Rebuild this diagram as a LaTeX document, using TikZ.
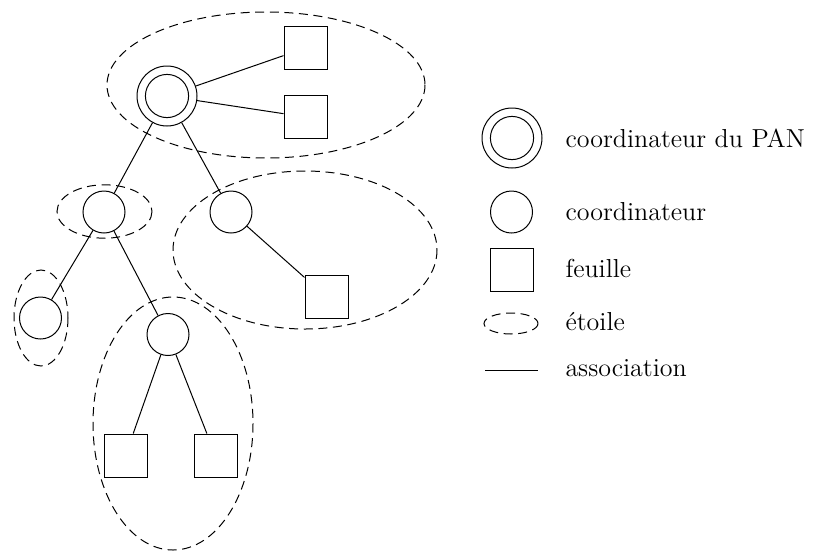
\documentclass[tikz,border=0pt]{standalone}
\usepackage{amsmath,amssymb}
\usepackage{xcolor}
\usepackage{tikz}

\begin{document}
\begin{tikzpicture}[x=0.5pt,y=-0.5pt,line width=0.5pt,
    coord/.style={circle,draw,minimum size=21pt,inner sep=0pt},
    pan/.style={circle,draw,minimum size=30pt,inner sep=0pt,
      path picture={\draw (path picture bounding box.center) circle (10.8pt);}},
    leaf/.style={rectangle,draw,minimum size=21.5pt,inner sep=0pt},
    star/.style={dash pattern=on 4.5pt off 2.8pt},
    lbl/.style={anchor=west,inner sep=0pt,font=\fontsize{13}{15}\selectfont}]
    \useasboundingbox (0,0) rectangle (818,552);
    % nodes of the tree
    \node[pan] (pan) at (167,96) {};
    \node[leaf] (f1) at (305.5,48) {};
    \node[leaf] (f2) at (305.5,117) {};
    \node[coord] (cl) at (104,212) {};
    \node[coord] (cr) at (231,212) {};
    \node[leaf] (f3) at (326.5,297) {};
    \node[coord] (cll) at (40.5,318) {};
    \node[coord] (clr) at (168,334.5) {};
    \node[leaf] (f4) at (125.5,455.5) {};
    \node[leaf] (f5) at (215.5,455.5) {};
    % associations
    \draw (pan) to (f1);
    \draw (pan) to (f2);
    \draw (pan) to (cl);
    \draw (pan) to (cr);
    \draw (cr) to (f3);
    \draw (cl) to (cll);
    \draw (cl) to (clr);
    \draw (clr) to (f4);
    \draw (clr) to (f5);
    % stars
    \draw[star] (266,85) ellipse [x radius=159, y radius=73];
    \draw[star] (104.5,211.5) ellipse [x radius=47.5, y radius=26.7];
    \draw[star] (305,250) ellipse [x radius=132, y radius=79];
    \draw[star] (41,318) ellipse [x radius=27, y radius=48];
    \draw[star] (173,423.5) ellipse [x radius=80, y radius=126.5];
    % legend
    \node[pan] (kpan) at (512,138) {};
    \node[coord] (kcoord) at (511.5,212) {};
    \node[leaf] (kleaf) at (511.5,270) {};
    \coordinate (kstar) at (511,323.5);
    \draw[star] (kstar) ellipse [x radius=27, y radius=10.5];
    \coordinate (ka) at (485,370);
    \coordinate (kb) at (538,370);
    \draw (ka) to (kb);
    \node[lbl] (tpan) at (565,138) {coordinateur du PAN};
    \node[lbl] (tcoord) at (565,212) {coordinateur};
    \node[lbl] (tleaf) at (565,268) {feuille};
    \node[lbl] (tstar) at (565,322) {étoile};
    \node[lbl] (tassoc) at (565,368) {association};
\end{tikzpicture}
\end{document}
